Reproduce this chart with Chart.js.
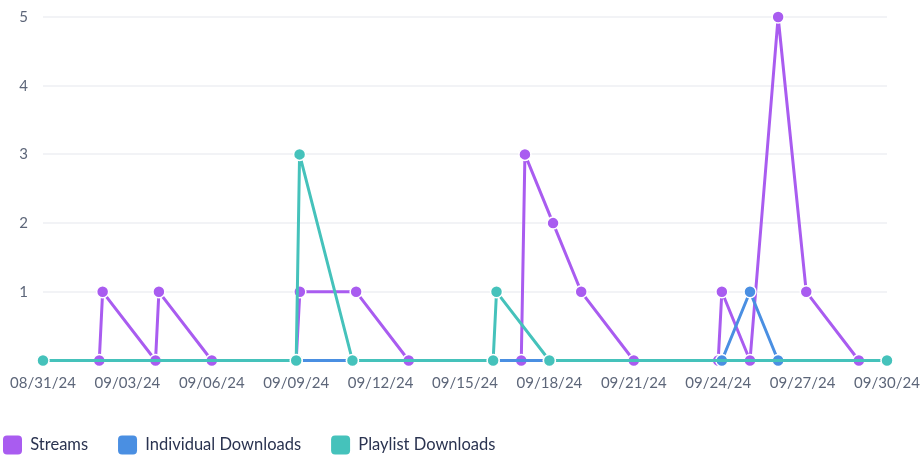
<!DOCTYPE html>
<html>
<head>
<meta charset="utf-8">
<title>Activity</title>
<script src="https://cdn.jsdelivr.net/npm/chart.js@4.4.1/dist/chart.umd.min.js"></script>
<style>
  html, body { margin: 0; padding: 0; background: #fff; }
  #wrap { width: 924px; height: 457px; position: relative; }
</style>
</head>
<body>
<div id="wrap"><canvas id="activityChart"></canvas></div>
<script>
"use strict";
const ctx = document.getElementById('activityChart');

// x positions are days since 08/31/24 (fractions = time of day)
const dateLabels = ['08/31/24', '09/03/24', '09/06/24', '09/09/24', '09/12/24', '09/15/24',
  '09/18/24', '09/21/24', '09/24/24', '09/27/24', '09/30/24'];

const seriesNames = ['Streams', 'Individual Downloads', 'Playlist Downloads'];
const seriesColors = ['#a95cf0', '#4a8fe2', '#45c2bb'];

const streamDays = [2, 2.12, 4, 4.12, 6, 9, 9.13, 11.13, 13, 17, 17.13, 18.13, 19.13, 21, 24, 24.13, 25.13, 26.13, 27.13, 29];
const streamValues = [0, 1, 0, 1, 0, 0, 1, 1, 0, 0, 3, 2, 1, 0, 0, 1, 0, 5, 1, 0];

const downloadDays = [0, 9, 11, 16, 18, 24.13, 25.13, 26.13, 30];
const downloadValues = [0, 0, 0, 0, 0, 0, 1, 0, 0];

const playlistDays = [0, 9, 9.12, 11, 16, 16.12, 18, 30];
const playlistValues = [0, 0, 3, 0, 0, 1, 0, 0];

const yTicks = [1, 2, 3, 4, 5];

function toPoints(days, values) {
  return days.map((d, i) => ({ x: d, y: values[i] }));
}

function makeDataset(i, days, values, order) {
  return {
    label: seriesNames[i],
    data: toPoints(days, values),
    borderColor: seriesColors[i],
    backgroundColor: seriesColors[i],
    borderWidth: 3,
    borderJoinStyle: 'round',
    pointRadius: 6,
    pointBorderColor: '#fff',
    pointBorderWidth: 1.5,
    pointBackgroundColor: seriesColors[i],
    tension: 0,
    clip: false,
    order: order
  };
}

const tickFont = { family: 'Lato, sans-serif', size: 15 };
const tickColor = '#5d6679';

let myChart = new Chart(ctx, {
  type: 'line',
  data: {
    datasets: [
      makeDataset(0, streamDays, streamValues, 3),
      makeDataset(1, downloadDays, downloadValues, 2),
      makeDataset(2, playlistDays, playlistValues, 1)
    ]
  },
  options: {
    responsive: true,
    maintainAspectRatio: false,
    animation: false,
    events: [],
    layout: {
      padding: { left: -27, right: 37, top: 17, bottom: -7.5 }
    },
    scales: {
      x: {
        type: 'linear',
        min: 0,
        max: 30,
        grid: { display: false, drawTicks: false },
        border: { display: false },
        afterFit: function (scale) {
          scale.height = 45;
          scale.paddingLeft = 0;
          scale.paddingRight = 0;
        },
        afterBuildTicks: function (scale) {
          scale.ticks = dateLabels.map((_, i) => ({ value: i * 3 }));
        },
        ticks: {
          autoSkip: false,
          maxRotation: 0,
          padding: 14,
          color: tickColor,
          font: tickFont,
          callback: function (value) { return dateLabels[Math.round(value / 3)]; }
        }
      },
      y: {
        min: 0,
        max: 5,
        afterFit: function (scale) {
          scale.width = 70;
          scale.paddingTop = 0;
          scale.paddingBottom = 0;
        },
        afterBuildTicks: function (scale) {
          scale.ticks = [0].concat(yTicks).map(v => ({ value: v }));
        },
        grid: {
          drawTicks: false,
          lineWidth: 2,
          color: function (c) { return c.tick && c.tick.value === 0 ? 'rgba(0,0,0,0)' : '#f2f3f6'; }
        },
        border: { display: false },
        ticks: {
          padding: 15,
          color: tickColor,
          font: tickFont,
          callback: function (value) { return value === 0 ? '' : value; }
        }
      }
    },
    plugins: {
      tooltip: { enabled: false },
      legend: {
        position: 'bottom',
        align: 'start',
        labels: {
          boxWidth: 19,
          boxHeight: 19,
          useBorderRadius: true,
          borderRadius: 4,
          padding: 30,
          color: '#2a3350',
          font: { family: 'Lato, sans-serif', size: 16.5 },
          sort: function (a, b) { return a.datasetIndex - b.datasetIndex; },
          generateLabels: function (chart) {
            const items = Chart.defaults.plugins.legend.labels.generateLabels(chart);
            items.forEach(item => { item.lineWidth = 0; });
            return items;
          }
        }
      }
    }
  }
});
</script>
</body>
</html>
